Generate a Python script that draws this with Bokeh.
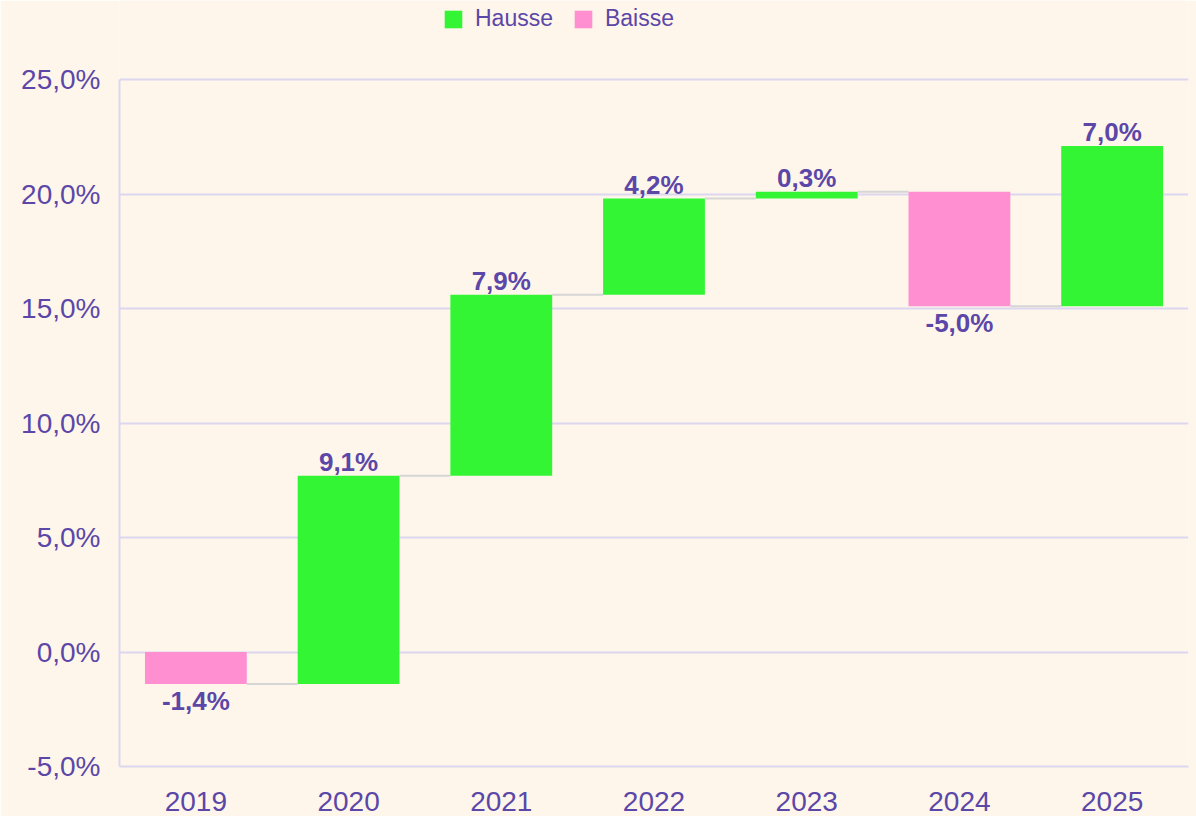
from bokeh.plotting import figure
from bokeh.models import ColumnDataSource, FactorRange, Range1d, FixedTicker, Legend, LegendItem
from bokeh.transform import dodge
from bokeh.core.properties import value
from bokeh.embed import file_html
from bokeh.resources import INLINE

# ---- data ----
years = ["2019", "2020", "2021", "2022", "2023", "2024", "2025"]
changes = [-1.4, 9.1, 7.9, 4.2, 0.3, -5.0, 7.0]
y_ticks = [-5, 0, 5, 10, 15, 20, 25]
y_tick_labels = ["-5,0%", "0,0%", "5,0%", "10,0%", "15,0%", "20,0%", "25,0%"]
legend_names = ["Hausse", "Baisse"]

# ---- styles ----
BG = "#FFF6EB"
TXT = "#5B47A8"
GRID = "#DDD6F0"
UP = "#33F533"
DOWN = "#FF8FD0"
CONN = "#D6D6D6"
FONT = "Liberation Sans"

# layout (pixels)
W, H = 1196, 816
LEFT, RIGHT, BOTTOM = 119, 8, 50
AXIS_TOP_PX = 79            # where the 25% line sits
Y_MIN, Y_AXIS_MAX = -5, 25
frame_h = H - BOTTOM
px_per_unit = (frame_h - AXIS_TOP_PX) / (Y_AXIS_MAX - Y_MIN)
Y_MAX = Y_AXIS_MAX + AXIS_TOP_PX / px_per_unit

# cumulative positions
starts, ends = [], []
acc = 0.0
for c in changes:
    starts.append(acc)
    acc = round(acc + c, 4)
    ends.append(acc)

def fmt(v):
    return ("%.1f%%" % v).replace(".", ",")

up = dict(x=[], top=[], bottom=[])
down = dict(x=[], top=[], bottom=[])
for y, s, e, c in zip(years, starts, ends, changes):
    d = up if c >= 0 else down
    d["x"].append(y)
    d["top"].append(max(s, e))
    d["bottom"].append(min(s, e))

lab_up = dict(x=[], y=[], t=[])
lab_dn = dict(x=[], y=[], t=[])
for y, s, e, c in zip(years, starts, ends, changes):
    if c >= 0:
        lab_up["x"].append(y); lab_up["y"].append(max(s, e)); lab_up["t"].append(fmt(c))
    else:
        lab_dn["x"].append(y); lab_dn["y"].append(min(s, e)); lab_dn["t"].append(fmt(c))

conn = dict(a=years[:-1], b=years[1:], y=ends[:-1])

p = figure(width=W, height=H, x_range=FactorRange(*years, range_padding=0),
           y_range=Range1d(Y_MIN, Y_MAX), output_backend="svg", toolbar_location=None,
           title=None,
           min_border_left=LEFT, min_border_right=RIGHT, min_border_top=0,
           min_border_bottom=BOTTOM)
p.x_range.range_padding = 0
p.background_fill_color = BG
p.border_fill_color = BG
p.outline_line_color = None

p.xgrid.grid_line_color = None
p.ygrid.grid_line_color = GRID
p.ygrid.grid_line_width = 2

p.yaxis.ticker = FixedTicker(ticks=y_ticks)
p.yaxis.bounds = (Y_MIN, Y_AXIS_MAX)
p.yaxis.major_label_overrides = {t: l for t, l in zip(y_ticks, y_tick_labels)}
for ax in (p.xaxis[0], p.yaxis[0]):
    ax.axis_line_color = GRID
    ax.axis_line_width = 2
    ax.major_tick_line_color = None
    ax.minor_tick_line_color = None
    ax.major_tick_out = 0
    ax.major_tick_in = 0
    ax.major_label_text_color = TXT
    ax.major_label_text_font = FONT
    ax.major_label_text_font_size = "28px"
p.yaxis.major_label_standoff = 19
p.xaxis.major_label_standoff = 25

# connectors
p.segment(x0=dodge("a", 1/3, range=p.x_range), x1=dodge("b", -1/3, range=p.x_range),
          y0="y", y1="y", source=ColumnDataSource(conn), line_color=CONN, line_width=2)

r_up = p.vbar(x="x", top="top", bottom="bottom", width=2/3, source=ColumnDataSource(up),
              fill_color=UP, line_color=None)
r_dn = p.vbar(x="x", top="top", bottom="bottom", width=2/3, source=ColumnDataSource(down),
              fill_color=DOWN, line_color=None)

p.text(x="x", y="y", text="t", source=ColumnDataSource(lab_up), text_align="center",
       text_baseline="middle", y_offset=-14, text_color=TXT, text_font=value(FONT),
       text_font_size="26px", text_font_style="bold")
p.text(x="x", y="y", text="t", source=ColumnDataSource(lab_dn), text_align="center",
       text_baseline="middle", y_offset=17, text_color=TXT, text_font=value(FONT),
       text_font_size="26px", text_font_style="bold")

legend = Legend(items=[LegendItem(label=legend_names[0], renderers=[r_up]),
                       LegendItem(label=legend_names[1], renderers=[r_dn])],
                orientation="horizontal", location=(323, frame_h - 32),
                glyph_width=22, glyph_height=22, label_standoff=11, spacing=19,
                padding=0, margin=0, border_line_color=None, background_fill_alpha=0,
                label_text_color=TXT, label_text_font=FONT, label_text_font_size="23px")
p.add_layout(legend, "center")

open("out.html", "w").write(file_html(p, INLINE))
